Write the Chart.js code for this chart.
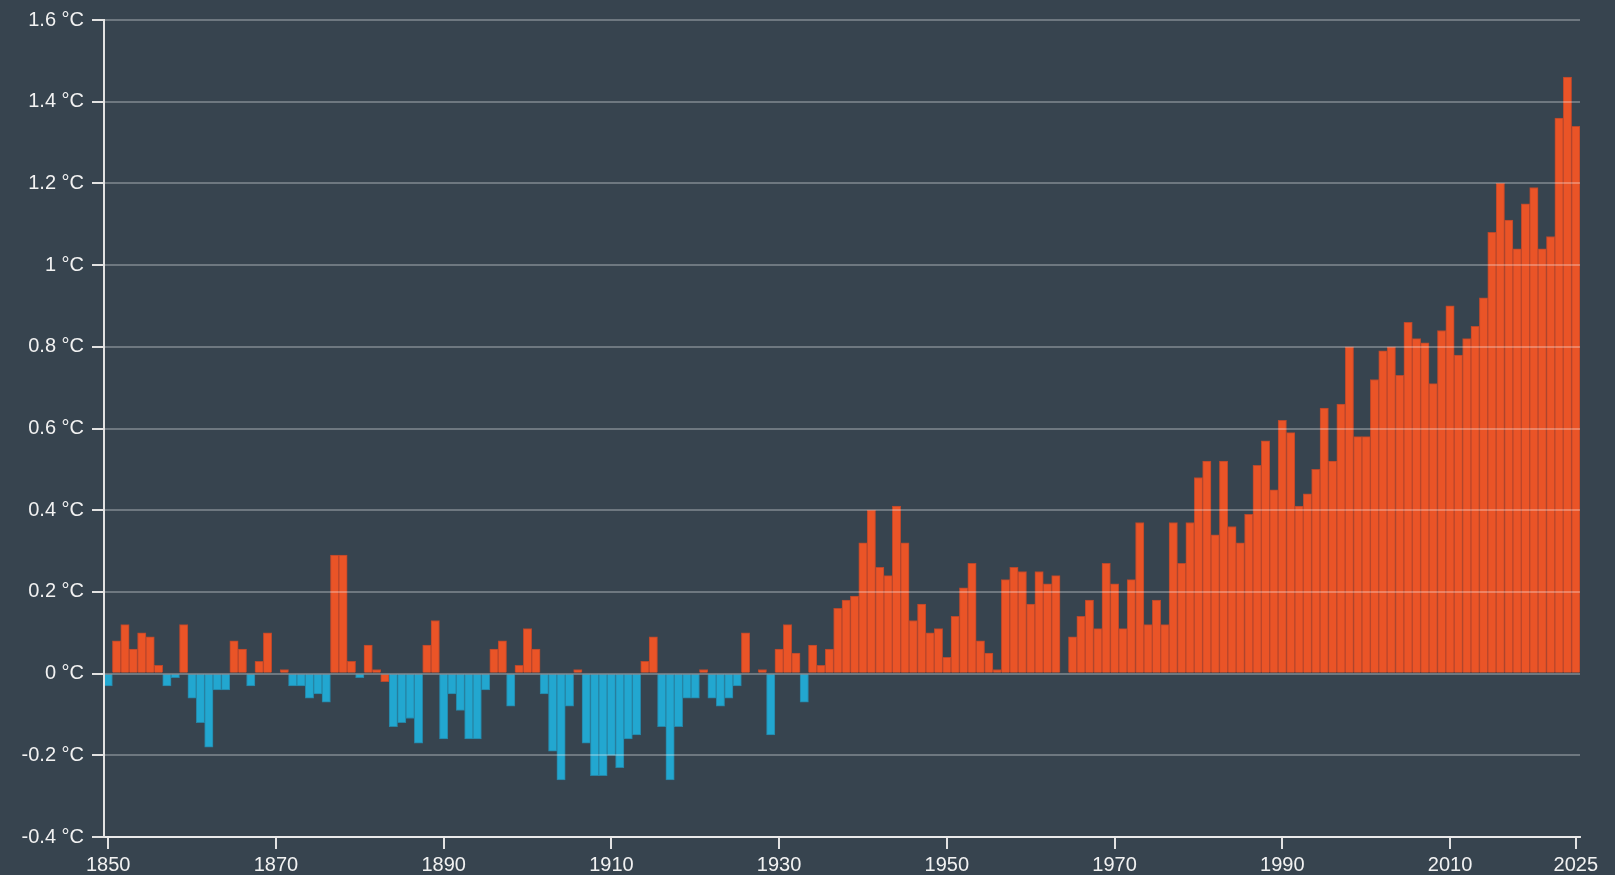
<!DOCTYPE html>
<html>
<head>
<meta charset="utf-8">
<script src="https://cdn.jsdelivr.net/npm/chart.js@4.4.1/dist/chart.umd.min.js"></script>
<style>
    html, body { margin: 0; padding: 0; background: #37444f; }
    #wadah { width: 1615px; height: 875px; }
</style>
</head>
<body>
<div id="wadah"><canvas id="chartAnomali"></canvas></div>
<script>
const firstYear = 1850;
const lastYear = 2025;

// temperature anomaly per year, °C (1850 .. 2025)
const anomalies = [
    -0.03, 0.08, 0.12, 0.06, 0.10, 0.09, 0.02, -0.03, -0.01, 0.12,   // 1850s
    -0.06, -0.12, -0.18, -0.04, -0.04, 0.08, 0.06, -0.03, 0.03, 0.10, // 1860s
    0.00, 0.01, -0.03, -0.03, -0.06, -0.05, -0.07, 0.29, 0.29, 0.03,  // 1870s
    -0.01, 0.07, 0.01, -0.02, -0.13, -0.12, -0.11, -0.17, 0.07, 0.13, // 1880s
    -0.16, -0.05, -0.09, -0.16, -0.16, -0.04, 0.06, 0.08, -0.08, 0.02, // 1890s
    0.11, 0.06, -0.05, -0.19, -0.26, -0.08, 0.01, -0.17, -0.25, -0.25, // 1900s
    -0.20, -0.23, -0.16, -0.15, 0.03, 0.09, -0.13, -0.26, -0.13, -0.06, // 1910s
    -0.06, 0.01, -0.06, -0.08, -0.06, -0.03, 0.10, 0.00, 0.01, -0.15, // 1920s
    0.06, 0.12, 0.05, -0.07, 0.07, 0.02, 0.06, 0.16, 0.18, 0.19,      // 1930s
    0.32, 0.40, 0.26, 0.24, 0.41, 0.32, 0.13, 0.17, 0.10, 0.11,       // 1940s
    0.04, 0.14, 0.21, 0.27, 0.08, 0.05, 0.01, 0.23, 0.26, 0.25,       // 1950s
    0.17, 0.25, 0.22, 0.24, 0.00, 0.09, 0.14, 0.18, 0.11, 0.27,       // 1960s
    0.22, 0.11, 0.23, 0.37, 0.12, 0.18, 0.12, 0.37, 0.27, 0.37,       // 1970s
    0.48, 0.52, 0.34, 0.52, 0.36, 0.32, 0.39, 0.51, 0.57, 0.45,       // 1980s
    0.62, 0.59, 0.41, 0.44, 0.50, 0.65, 0.52, 0.66, 0.80, 0.58,       // 1990s
    0.58, 0.72, 0.79, 0.80, 0.73, 0.86, 0.82, 0.81, 0.71, 0.84,       // 2000s
    0.90, 0.78, 0.82, 0.85, 0.92, 1.08, 1.20, 1.11, 1.04, 1.15,       // 2010s
    1.19, 1.04, 1.07, 1.36, 1.46, 1.34                                // 2020s
];

// years drawn in the warm colour even though slightly below zero
const warmBelowZero = [1883];

const yTicks = [-0.4, -0.2, 0, 0.2, 0.4, 0.6, 0.8, 1.0, 1.2, 1.4, 1.6];
const xTickYears = [1850, 1870, 1890, 1910, 1930, 1950, 1970, 1990, 2010, 2025];

const years = [];
for (let y = firstYear; y <= lastYear; y++) years.push(y);

const WARNA_HANGAT = '#ea5427';
const WARNA_DINGIN = '#22a7d0';
const TEKS = '#f2f2f2';
const GARIS = '#e2e2e2';

function isWarm(i) {
    return anomalies[i] >= 0 || warmBelowZero.includes(years[i]);
}

Chart.defaults.font.family = '"Liberation Sans", Arial, sans-serif';
Chart.defaults.font.size = 20;
Chart.defaults.color = TEKS;

const ctx = document.getElementById('chartAnomali').getContext('2d');
new Chart(ctx, {
    type: 'bar',
    data: {
        labels: years,
        datasets: [{
            data: anomalies,
            backgroundColor: years.map((y, i) => isWarm(i) ? WARNA_HANGAT : WARNA_DINGIN),
            borderColor: years.map((y, i) => isWarm(i) ? '#b9472c' : '#2685a6'),
            borderWidth: 1,
            barPercentage: 1,
            categoryPercentage: 1
        }]
    },
    options: {
        responsive: true,
        maintainAspectRatio: false,
        animation: false,
        layout: { padding: { top: 19, right: 35, bottom: 0, left: 0 } },
        plugins: { legend: { display: false }, tooltip: { enabled: false } },
        scales: {
            x: {
                offset: true,
                grid: {
                    display: true,
                    drawOnChartArea: false,
                    offset: false,
                    tickLength: 12,
                    lineWidth: 2,
                    tickColor: c => (c.index !== undefined && xTickYears.includes(years[c.index])) ? GARIS : 'rgba(0,0,0,0)'
                },
                border: { color: GARIS, width: 2 },
                ticks: {
                    autoSkip: false,
                    maxRotation: 0,
                    minRotation: 0,
                    padding: 4,
                    callback: (val, idx) => xTickYears.includes(years[idx]) ? String(years[idx]) : ''
                },
                afterFit: scale => { scale.height = 38; }
            },
            y: {
                min: -0.4,
                max: 1.6,
                afterBuildTicks: scale => { scale.ticks = yTicks.map(v => ({ value: v })); },
                grid: {
                    color: 'rgba(255,255,255,0.28)',
                    lineWidth: 2,
                    tickColor: GARIS,
                    tickLength: 12,
                    z: 1
                },
                border: { color: GARIS, width: 2, z: 1 },
                ticks: {
                    padding: 8,
                    callback: v => `${+Number(v).toFixed(1)} °C`
                },
                afterFit: scale => { scale.width = 104; }
            }
        }
    }
});
</script>
</body>
</html>
